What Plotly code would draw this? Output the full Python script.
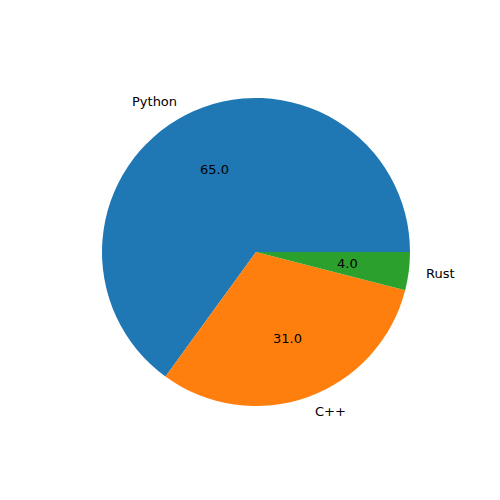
import math
import plotly.graph_objects as go

labels = ["Python", "C++", "Rust"]
values = [65.0, 31.0, 4.0]
colors = ["#1f77b4", "#ff7f0e", "#2ca02c"]

W, H = 500, 500
cx, cy, r = 256.0, 252.0, 154.0

total = sum(values)
# plotly's counterclockwise layout starts first slice at rotation + its own angle
rot = 90.0 - 360.0 * values[0] / total

fig = go.Figure(go.Pie(
    labels=labels, values=values, sort=False, direction="counterclockwise",
    rotation=rot, textinfo="none", hoverinfo="label+value",
    marker=dict(colors=colors, line=dict(width=0)),
    domain=dict(x=[(cx - r) / W, (cx + r) / W], y=[1 - (cy + r) / H, 1 - (cy - r) / H]),
    showlegend=False,
))

start = 0.0
annotations = []
font = dict(family="DejaVu Sans", size=13, color="black")
for lab, v in zip(labels, values):
    ang = start + 360.0 * v / total / 2
    start += 360.0 * v / total
    t = math.radians(ang)
    lx = cx + 1.1 * r * math.cos(t)
    ly = cy - 1.1 * r * math.sin(t)
    annotations.append(dict(
        x=lx / W, y=1 - ly / H, xref="paper", yref="paper", text=lab,
        showarrow=False, font=font,
        xanchor="left" if math.cos(t) > 0 else "right", yanchor="middle"))
    px = cx + 0.6 * r * math.cos(t)
    py = cy - 0.6 * r * math.sin(t)
    annotations.append(dict(
        x=px / W, y=1 - py / H, xref="paper", yref="paper", text=f"{v:.1f}",
        showarrow=False, font=font, xanchor="center", yanchor="middle"))

fig.update_layout(
    width=W, height=H, margin=dict(l=0, r=0, t=0, b=0),
    paper_bgcolor="white", plot_bgcolor="white",
    annotations=annotations,
)
fig.write_html("out.html")
